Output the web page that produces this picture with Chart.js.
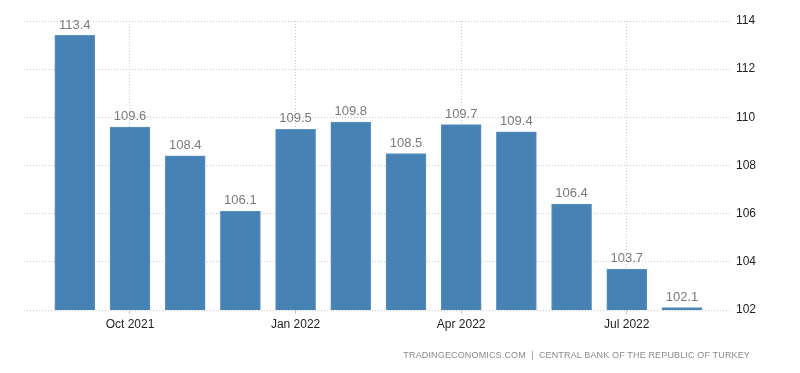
<!DOCTYPE html>
<html lang="en">
<head>
    <meta charset="UTF-8">
    <title>Turkey Real Effective Exchange Rate</title>
    <script src="https://cdn.jsdelivr.net/npm/chart.js"></script>
    <style>
        html, body { margin: 0; padding: 0; background: #fff; }
        #wrap { position: relative; width: 800px; height: 373px; }
        #source {
            position: absolute; right: 50px; top: 350px;
            font: 9px "Liberation Sans", Arial, sans-serif;
            letter-spacing: 0.15px; color: #8a8a8a;
        }
    </style>
</head>
<body>
    <div id="wrap">
        <canvas id="chart" width="800" height="373"></canvas>
        <div id="source">TRADINGECONOMICS.COM &nbsp;|&nbsp; CENTRAL BANK OF THE REPUBLIC OF TURKEY</div>
    </div>

    <script>
        const months = ['Sep 2021', 'Oct 2021', 'Nov 2021', 'Dec 2021', 'Jan 2022', 'Feb 2022',
                        'Mar 2022', 'Apr 2022', 'May 2022', 'Jun 2022', 'Jul 2022', 'Aug 2022'];
        const values = [113.4, 109.6, 108.4, 106.1, 109.5, 109.8, 108.5, 109.7, 109.4, 106.4, 103.7, 102.1];
        const xTickIdx = [1, 4, 7, 10];
        const yTicks = [102, 104, 106, 108, 110, 112, 114];

        const valueLabels = {
            id: 'valueLabels',
            afterDatasetsDraw(chart) {
                const c = chart.ctx;
                const meta = chart.getDatasetMeta(0);
                c.save();
                c.font = '13px "Liberation Sans", Arial, sans-serif';
                c.fillStyle = '#7a7a7a';
                c.textAlign = 'center';
                c.textBaseline = 'bottom';
                meta.data.forEach((bar, i) => {
                    c.fillText(values[i].toFixed(1), bar.x, bar.y - 4);
                });
                c.restore();
            }
        };

        new Chart(document.getElementById('chart'), {
            type: 'bar',
            data: {
                datasets: [{
                    data: values.map((v, i) => ({ x: i, y: v })),
                    backgroundColor: '#4682b4',
                    borderColor: '#5b93c2',
                    borderWidth: 1,
                    barThickness: 40
                }]
            },
            options: {
                responsive: false,
                animation: false,
                layout: { padding: { left: 24, top: 21, right: 0, bottom: 0 } },
                plugins: { legend: { display: false }, tooltip: { enabled: false } },
                scales: {
                    x: {
                        type: 'linear',
                        offset: false,
                        min: -0.92,
                        max: 11.87,
                        afterBuildTicks: s => { s.ticks = xTickIdx.map(v => ({ value: v })); },
                        afterFit: s => { s.height = 63; },
                        ticks: {
                            callback: v => months[v],
                            color: '#222',
                            font: { family: '"Liberation Sans", Arial, sans-serif', size: 12 },
                            maxRotation: 0,
                            padding: 3
                        },
                        grid: {
                            offset: false,
                            color: '#c8c8c8',
                            tickColor: '#c8c8c8',
                            tickLength: 4
                        },
                        border: { display: false, dash: [1, 2] }
                    },
                    y: {
                        position: 'right',
                        min: 102,
                        max: 114,
                        afterBuildTicks: s => { s.ticks = yTicks.map(v => ({ value: v })); },
                        afterFit: s => { s.width = 70; },
                        ticks: {
                            color: '#222',
                            font: { family: '"Liberation Sans", Arial, sans-serif', size: 12 },
                            padding: 6
                        },
                        grid: { color: '#c8c8c8', drawTicks: false },
                        border: { display: false, dash: [1, 2] }
                    }
                }
            },
            plugins: [valueLabels]
        });
    </script>
</body>
</html>
